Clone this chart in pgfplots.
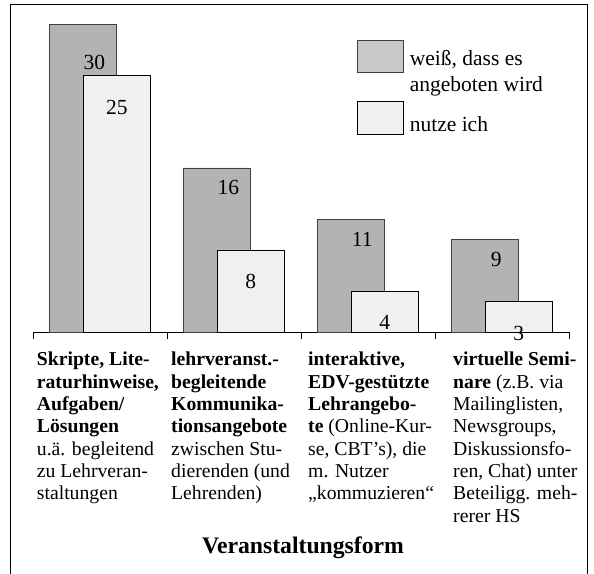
\documentclass[border=0pt]{standalone}
\usepackage{pgfplots}
\pgfplotsset{compat=1.18}
\usepackage{fontspec}
\setmainfont{Liberation Serif}
\definecolor{darkbar}{HTML}{B3B3B3}
\definecolor{legdark}{HTML}{C8C8C8}
\definecolor{lightbar}{HTML}{F0F0F0}
\definecolor{edgegray}{HTML}{404040}
\newcommand{\catfont}{\fontsize{19.7}{22.3}\selectfont}
\begin{document}
\begin{tikzpicture}[x=1pt,y=1pt]
\path[use as bounding box] (0,0) rectangle (594,573);
\draw[line width=0.9pt] (10.7,-2) -- (10.7,568.3) -- (587,568.3) -- (587,-2);
\begin{axis}[
  at={(33pt,241pt)}, anchor=south west,
  x=134pt, y=10.25pt,
  xmin=-0.5, xmax=3.5, ymin=0, ymax=31.5,
  axis x line*=bottom, axis y line=none,
  axis line style={line width=0.8pt, black},
  xtick={-0.5,0.5,1.5,2.5,3.5}, xticklabels={},
  tick align=outside, major tick length=7pt,
  xtick style={line width=0.8pt, black},
  /pgf/number format/assume math mode=true,
  clip=false,
  legend style={at={(axis cs:1.918,28.5)}, anchor=north west, draw=none, fill=none,
    inner sep=0pt, outer sep=0pt, row sep=7.5pt, column sep=6pt,
    font=\fontsize{21.5}{26}\selectfont,
    cells={anchor=base west, align=left}, nodes={inner sep=0pt, outer sep=0pt}},
  legend cell align=left,
]
\addplot[ybar, bar width=0.5, bar shift=-0.125, fill=darkbar, draw=edgegray, line width=0.8pt,
  forget plot,
  visualization depends on={y \as \rawy},
  nodes near coords,
  every node near coord/.append style={anchor=base, xshift=-5.75pt,
     yshift={\rawy>20 ? -45 : -27}, font=\fontsize{21.5}{24}\selectfont, text=black}]
  coordinates {(0,30) (1,16) (2,11) (3,9)};
\addplot[ybar, bar width=0.5, bar shift=0.125, fill=lightbar, draw=black, line width=0.8pt,
  forget plot,
  nodes near coords,
  every node near coord/.append style={anchor=base, xshift=16.75pt, yshift=-39pt,
     font=\fontsize{21.5}{24}\selectfont, text=black}]
  coordinates {(0,25) (1,8) (2,4) (3,3)};
\addlegendimage{legend image code/.code={\draw[fill=legdark, draw=edgegray, line width=0.8pt] (0pt,-0.5pt) rectangle (46pt,31.5pt);}}
\addlegendentry{weiß, dass es\\angeboten wird}
\addlegendimage{legend image code/.code={\draw[fill=lightbar, draw=black, line width=0.8pt] (0pt,-9pt) rectangle (46pt,24pt);}}
\addlegendentry{nutze ich}
\end{axis}
\node[anchor=base west, inner sep=0pt] at (36.7,207) {\parbox[t]{140pt}{\catfont\raggedright
  \textbf{Skripte, Lite-}\\ \textbf{raturhinweise,}\\ \textbf{Aufgaben/}\\ \textbf{Lösungen}\\ u.ä. begleitend\\ zu Lehrveran-\\ staltungen}};
\node[anchor=base west, inner sep=0pt] at (171,207) {\parbox[t]{140pt}{\catfont\raggedright
  \textbf{lehrveranst.-}\\ \textbf{begleitende}\\ \textbf{Kommunika-}\\ \textbf{tionsangebote}\\ zwischen Stu-\\ dierenden (und\\ Lehrenden)}};
\node[anchor=base west, inner sep=0pt] at (308,207) {\parbox[t]{140pt}{\catfont\raggedright
  \textbf{interaktive,}\\ \textbf{EDV-gestützte}\\ \textbf{Lehrangebo-}\\ \textbf{te} (Online-Kur-\\ se, CBT's), die\\ m. Nutzer\\ „kommuzieren“}};
\node[anchor=base west, inner sep=0pt] at (453,207) {\parbox[t]{140pt}{\catfont\raggedright
  \textbf{virtuelle Semi-}\\ \textbf{nare} (z.B. via\\ Mailinglisten,\\ Newsgroups,\\ Diskussionsfo-\\ ren, Chat) unter\\ Beteiligg. meh-\\ rerer HS}};
\node[anchor=base, inner sep=0pt, font=\bfseries\fontsize{23.7}{28}\selectfont] at (303,20) {Veranstaltungsform};
\end{tikzpicture}
\end{document}
